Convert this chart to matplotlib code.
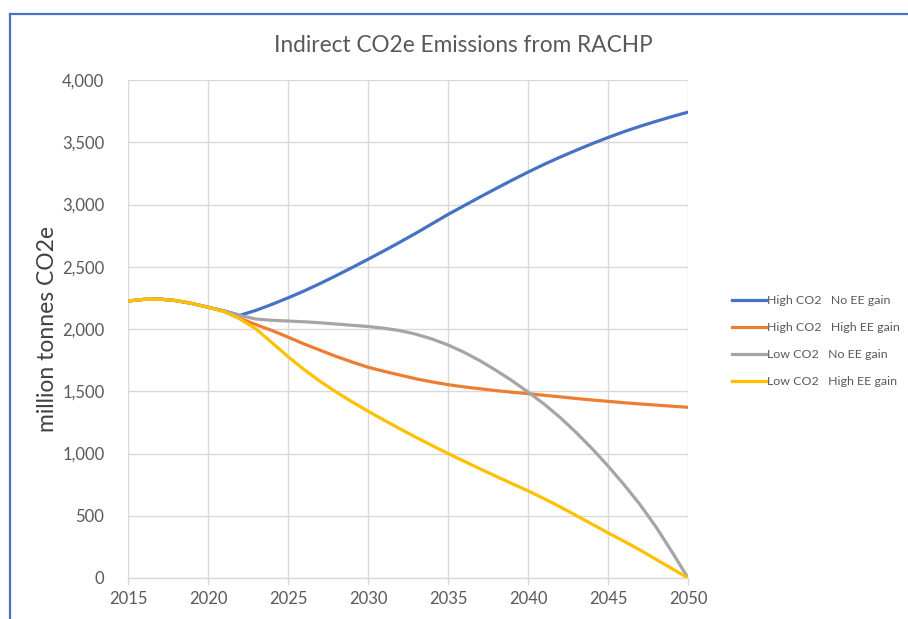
import matplotlib
matplotlib.use("Agg")
import matplotlib.pyplot as plt
from matplotlib.lines import Line2D

years = list(range(2015, 2051))

high_no_ee = [2225, 2238, 2240, 2228, 2205, 2175, 2145, 2110, 2150, 2198,
              2250, 2305, 2365, 2428, 2493, 2560, 2628, 2698, 2770, 2845,
              2920, 2990, 3060, 3128, 3195, 3260, 3322, 3380, 3435, 3488,
              3538, 3585, 3628, 3668, 3706, 3742]
high_high_ee = [2225, 2238, 2240, 2228, 2205, 2175, 2142, 2085, 2035, 1988,
                1935, 1880, 1830, 1780, 1735, 1693, 1660, 1630, 1600, 1575,
                1553, 1535, 1520, 1505, 1492, 1481, 1468, 1455, 1442, 1430,
                1419, 1408, 1398, 1389, 1380, 1371]
low_no_ee = [2225, 2238, 2240, 2228, 2205, 2175, 2145, 2108, 2080, 2070,
             2064, 2058, 2050, 2040, 2030, 2020, 2006, 1987, 1958, 1920,
             1872, 1813, 1745, 1668, 1585, 1494, 1398, 1290, 1170, 1040,
             900, 750, 590, 410, 210, 0]
low_high_ee = [2225, 2238, 2240, 2228, 2205, 2175, 2140, 2080, 2000, 1890,
               1778, 1675, 1580, 1495, 1415, 1340, 1268, 1198, 1130, 1064,
               1000, 938, 877, 817, 758, 700, 638, 572, 503, 433,
               363, 295, 225, 150, 75, 0]

series = [
    ("High CO2   No EE gain", high_no_ee, "#4472C4"),
    ("High CO2   High EE gain", high_high_ee, "#ED7D31"),
    ("Low CO2   No EE gain", low_no_ee, "#A5A5A5"),
    ("Low CO2   High EE gain", low_high_ee, "#FFC000"),
]

plt.rcParams['font.family'] = ['Lato', 'DejaVu Sans']

fig = plt.figure(figsize=(9.08, 6.19), dpi=100)
ax = fig.add_axes([128/908, 1-578/619, 560/908, 498/619])

for label, vals, col in series:
    ax.plot(years, vals, color=col, lw=2.3, label=label, solid_capstyle='round',
            solid_joinstyle='round', zorder=3)

ax.set_xlim(2015, 2050)
ax.set_ylim(0, 4000)
ax.set_xticks(range(2015, 2051, 5))
ax.set_yticks(range(0, 4001, 500))
ax.set_yticklabels([f"{v:,}" for v in range(0, 4001, 500)])
ax.grid(True, color="#D9D9D9", lw=1, zorder=0)
for s in ["top", "right", "left"]:
    ax.spines[s].set_visible(False)
ax.spines["bottom"].set_color("#D9D9D9")
ax.spines["bottom"].set_linewidth(1)
ax.tick_params(axis='x', colors="#D9D9D9", length=5, width=1, labelcolor="#595959",
               labelsize=12, pad=4)
ax.tick_params(axis='y', length=0, labelcolor="#595959", labelsize=12, pad=17)

ax.set_ylabel("million tonnes CO2e", fontsize=16.5, color="#404040", labelpad=3)
fig.text(463/908, 1-45/619, "Indirect CO2e Emissions from RACHP", ha="center", va="center",
         fontsize=16.3, color="#595959")

handles = [Line2D([0], [0], color=c, lw=2.3) for _, _, c in series]
fig.legend(handles, [l for l, _, _ in series], loc="upper left",
           bbox_to_anchor=(727/908, 1-290/619), frameon=False, fontsize=8.9,
           handlelength=2.75, handletextpad=0.1, labelspacing=1.3, labelcolor="#595959",
           borderaxespad=0, borderpad=0.4)

# outer chart border (partially visible)
fig.add_artist(Line2D([9.5/908, 1.0], [1-13.5/619, 1-13.5/619], color="#4472C4", lw=1.6,
                      transform=fig.transFigure))
fig.add_artist(Line2D([9.5/908, 9.5/908], [0, 1-13.5/619], color="#4472C4", lw=1.6,
                      transform=fig.transFigure))

fig.savefig("out.png", dpi=100)
